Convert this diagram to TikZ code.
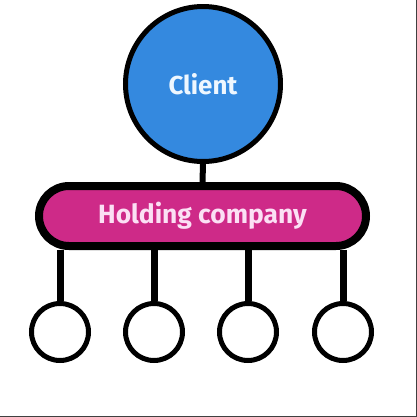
\documentclass[tikz,border=0pt]{standalone}
\usepackage{fontspec}
\setmainfont{Fira Sans}
\usepackage{tikz}
\usetikzlibrary{calc}

\definecolor{clientblue}{HTML}{3489DF}
\definecolor{holdpink}{HTML}{CE2A88}
\definecolor{clienttext}{HTML}{EEF7FF}
\definecolor{holdtext}{HTML}{FBE0F4}

\begin{document}
\begin{tikzpicture}[x=1bp,y=-1bp]
        % Frame of the picture
        \useasboundingbox (0,0) rectangle (417,417);
        \draw[line width=1.2bp, black!75] (0,416.4) -- (416.4,416.4) -- (416.4,0);

        % Client on top
        \node[circle, draw, line width=5bp, fill=clientblue, minimum size=155bp,
              text=clienttext, font=\bfseries\fontsize{26}{30}\selectfont] (client) at (203,84) {Client};

        % Holding company bar
        \node[rectangle, rounded corners=30bp, draw, line width=8bp, fill=holdpink,
              minimum width=327bp, minimum height=60bp,
              text=holdtext, font=\bfseries\fontsize{26.5}{30}\selectfont] (holding) at (202.5,216) {Holding company};

        % Line from the client to the bar
        \draw[line width=6bp] (client.south) -- (holding.north);

        % Small circles below, each hung from the bar
        \foreach \x [count=\i] in {60,154,248,343} {
            \node[circle, draw, line width=5bp, fill=white, minimum size=57bp] (sub\i) at (\x,332) {};
            \draw[line width=7bp] (holding.south -| sub\i) -- (sub\i.north);
        }
\end{tikzpicture}
\end{document}
